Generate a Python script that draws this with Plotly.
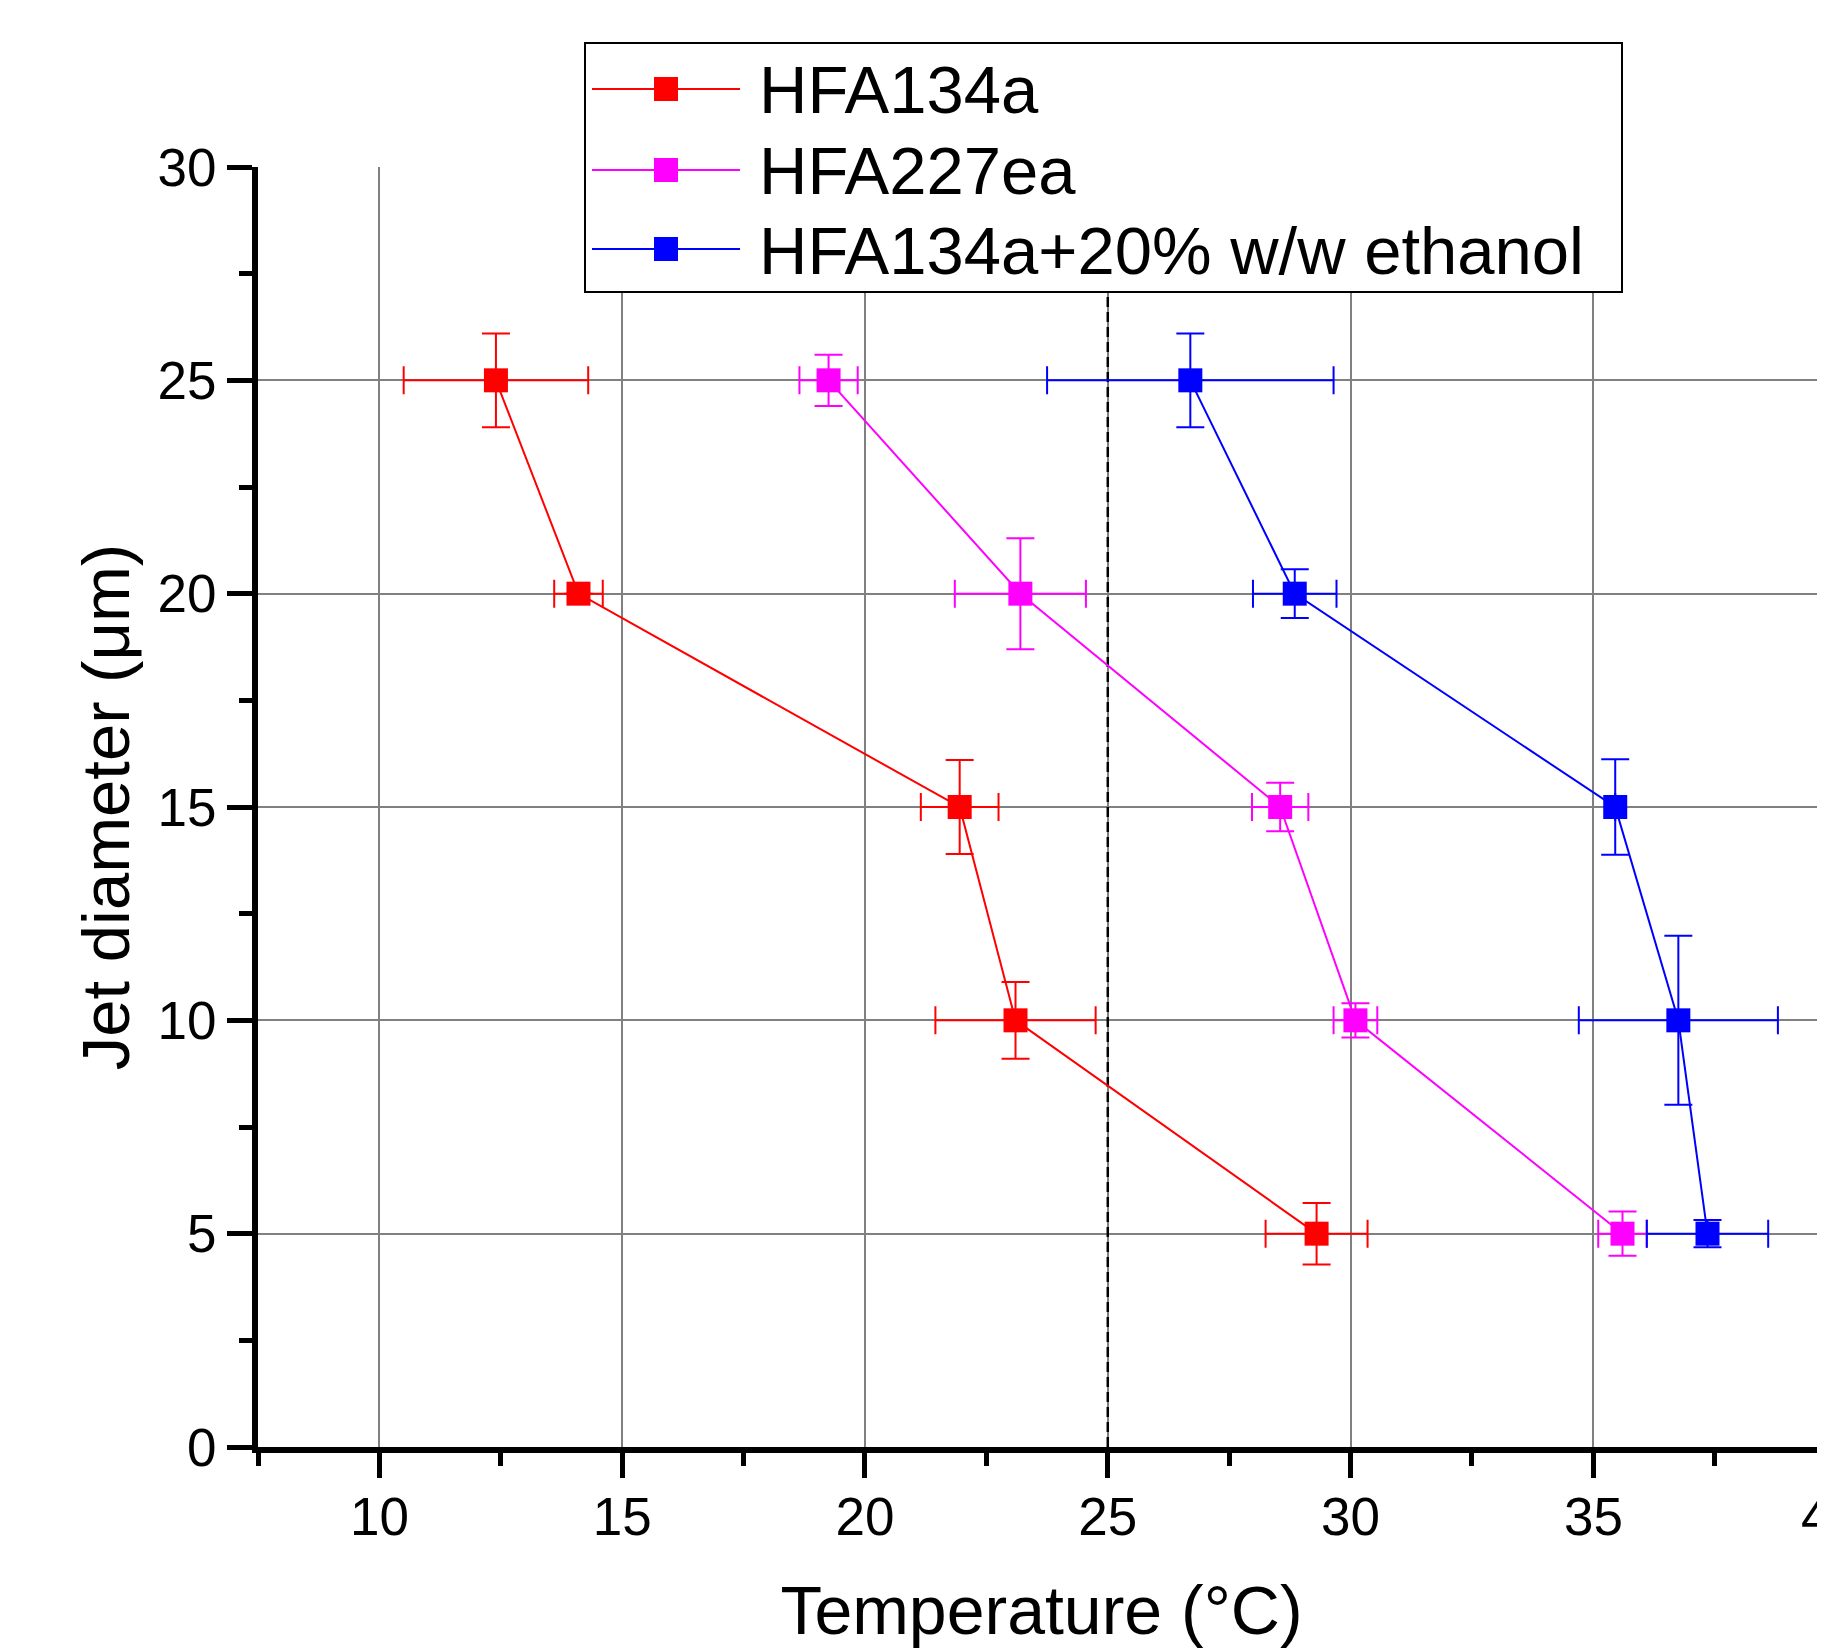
import plotly.graph_objects as go

# ---- data ----
diameter = [25, 20, 15, 10, 5]

temp_134a = [12.4, 14.1, 21.95, 23.1, 29.3]
xerr_134a = [1.9, 0.5, 0.8, 1.65, 1.05]
yerr_134a = [1.1, 0.0, 1.1, 0.9, 0.72]

temp_227ea = [19.25, 23.2, 28.55, 30.1, 35.6]
xerr_227ea = [0.6, 1.35, 0.58, 0.45, 0.5]
yerr_227ea = [0.6, 1.3, 0.57, 0.4, 0.52]

temp_eth = [26.7, 28.85, 35.45, 36.75, 37.35]
xerr_eth = [2.95, 0.86, 0.0, 2.05, 1.25]
yerr_eth = [1.1, 0.57, 1.12, 1.98, 0.32]

series_names = ["HFA134a", "HFA227ea", "HFA134a+20% w/w ethanol"]
series_colors = ["#FF0000", "#FF00FF", "#0000FF"]

ref_temp = 25
x_range = [7.5, 39.77]
y_range = [0, 30]
x_ticks = [10, 15, 20, 25, 30, 35, 40]
y_ticks = [0, 5, 10, 15, 20, 25, 30]
y_grid = [5, 10, 15, 20, 25]

FONT = "Liberation Sans, Arial, sans-serif"

# ---- layout geometry (pixels; page body adds an 8px offset) ----
OFF = 8
W, H = 1825 - OFF, 1648 - OFF
ML, MR, MT = 258 - OFF, 0, 167 - OFF
PH = 1280
MB = H - MT - PH
PW = W - ML - MR


def px_x(px):
    """screen x pixel -> paper fraction"""
    return (px - OFF - ML) / PW


def px_y(py):
    """screen y pixel -> paper fraction"""
    return (MT + PH - (py - OFF)) / PH


fig = go.Figure()

# dashed reference line at 25 °C
fig.add_trace(go.Scatter(
    x=[ref_temp, ref_temp], y=y_range, mode="lines",
    line=dict(color="black", width=2.5, dash="10px,5px"),
    showlegend=False, hoverinfo="skip"))

data = [
    (temp_134a, xerr_134a, yerr_134a),
    (temp_227ea, xerr_227ea, yerr_227ea),
    (temp_eth, xerr_eth, yerr_eth),
]

for name, col, (xs, xe, ye) in zip(series_names, series_colors, data):
    fig.add_trace(go.Scatter(
        x=xs, y=diameter, name=name, mode="lines+markers",
        line=dict(color=col, width=2),
        marker=dict(symbol="square", size=24, color=col, line=dict(width=0)),
        error_x=dict(type="data", array=xe, visible=True, color=col,
                     thickness=2, width=14),
        error_y=dict(type="data", array=ye, visible=True, color=col,
                     thickness=2, width=14),
        showlegend=False,
    ))

# empty trace to host the grid-only overlay axis
fig.add_trace(go.Scatter(x=[], y=[], yaxis="y2", showlegend=False))

fig.update_layout(
    width=W, height=H,
    margin=dict(l=ML, r=MR, t=MT, b=MB, autoexpand=False),
    plot_bgcolor="white", paper_bgcolor="white",
    font=dict(family=FONT, color="black"),
    showlegend=False,
    xaxis=dict(
        range=x_range, tickvals=x_ticks, ticks="outside", ticklen=25,
        tickwidth=5, tickcolor="black", showline=True, linewidth=6,
        linecolor="black", showgrid=True, gridcolor="#808080", gridwidth=1.5,
        zeroline=False, tickfont=dict(size=53, family=FONT),
        ticklabelstandoff=-7,
        minor=dict(dtick=2.5, tick0=0, ticks="outside", ticklen=13,
                   tickwidth=5, tickcolor="black", showgrid=False),
        title=dict(text="Temperature (°C)", font=dict(size=68, family=FONT),
                   standoff=64),
    ),
    yaxis=dict(
        range=y_range, tickvals=y_ticks, ticks="outside", ticklen=25,
        tickwidth=5, tickcolor="black", showline=True, linewidth=6,
        linecolor="black", showgrid=False, zeroline=False,
        tickfont=dict(size=53, family=FONT),
        minor=dict(dtick=2.5, tick0=0, ticks="outside", ticklen=13,
                   tickwidth=5, tickcolor="black", showgrid=False),
        title=dict(text="Jet diameter (μm)", font=dict(size=67, family=FONT),
                   standoff=8),
    ),
    yaxis2=dict(
        overlaying="y", anchor="x", range=y_range, tickvals=y_grid,
        showgrid=True, gridcolor="#808080", gridwidth=1.5,
        showticklabels=False, ticks="", showline=False, zeroline=False,
    ),
)

# ---- legend box drawn by hand (Origin style) ----
legend_box = (585, 43, 1622, 292)  # left, top, right, bottom (screen px)
legend_rows = [89, 170, 249]
fig.add_shape(type="rect", xref="paper", yref="paper", layer="above",
              x0=px_x(legend_box[0]), x1=px_x(legend_box[2]),
              y0=px_y(legend_box[3]), y1=px_y(legend_box[1]),
              line=dict(color="black", width=2), fillcolor="white")
for name, col, ry in zip(series_names, series_colors, legend_rows):
    fig.add_shape(type="line", xref="paper", yref="paper", layer="above",
                  x0=px_x(592), x1=px_x(740), y0=px_y(ry), y1=px_y(ry),
                  line=dict(color=col, width=2))
    fig.add_shape(type="rect", xref="paper", yref="paper", layer="above",
                  xsizemode="pixel", ysizemode="pixel",
                  xanchor=px_x(666), yanchor=px_y(ry),
                  x0=-12, x1=12, y0=-12, y1=12,
                  fillcolor=col, line=dict(width=0))
    fig.add_annotation(x=px_x(757), y=px_y(ry), xref="paper", yref="paper",
                       text=name, showarrow=False, xanchor="left",
                       yanchor="middle", yshift=-1,
                       font=dict(size=67, family=FONT, color="black"))

# partially visible "40" label at the cropped right edge
fig.add_annotation(
    x=(40 - x_range[0]) / (x_range[1] - x_range[0]), y=0,
    xref="paper", yref="paper", text="40", showarrow=False,
    xanchor="center", yanchor="top", yshift=-38, xshift=-6,
    font=dict(size=53, family=FONT, color="black"))

fig.write_html("out.html")
